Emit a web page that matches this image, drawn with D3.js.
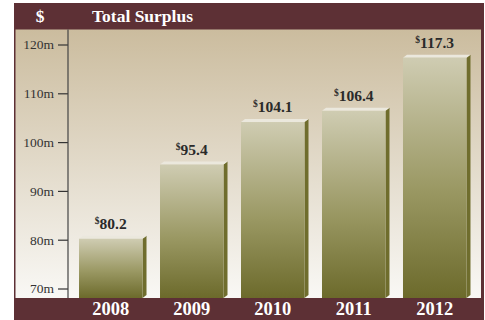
<!DOCTYPE html>
<html><head><meta charset="utf-8">
<script src="https://cdn.jsdelivr.net/npm/d3@7/dist/d3.min.js"></script>
<style>body{margin:0;background:#fff}svg{display:block}</style>
</head><body>
<script>
const years = ["2008","2009","2010","2011","2012"];
const surplus = [80.2, 95.4, 104.1, 106.4, 117.3];
const yTicks = [70, 80, 90, 100, 110, 120];
const title = "Total Surplus";

const W = 485, H = 320;
const svg = d3.select("body").append("svg").attr("width", W).attr("height", H);
const defs = svg.append("defs");
const bg = defs.append("linearGradient").attr("id","bg").attr("x1",0).attr("y1",0).attr("x2",0).attr("y2",1);
bg.append("stop").attr("offset","0%").attr("stop-color","#cbbc9e");
bg.append("stop").attr("offset","100%").attr("stop-color","#f9f8f5");
const bar = defs.append("linearGradient").attr("id","bar").attr("x1",0).attr("y1",0).attr("x2",0).attr("y2",1);
bar.append("stop").attr("offset","0%").attr("stop-color","#cfccb2");
bar.append("stop").attr("offset","55%").attr("stop-color","#9a9863");
bar.append("stop").attr("offset","100%").attr("stop-color","#6c6a2b");

const maroon = "#5d3035";
svg.append("rect").attr("x",14).attr("y",3).attr("width",470).attr("height",317).attr("fill",maroon);
svg.append("rect").attr("x",15.5).attr("y",29.5).attr("width",465.5).attr("height",268.5).attr("fill","url(#bg)");

const y = d3.scaleLinear().domain([70,120]).range([288.5,44.5]);
const x = d3.scaleBand().domain(years).range([68,477.5]).paddingInner(0.216).paddingOuter(0.136);
const base = 298;

const ax = svg.append("g").attr("transform","translate(68,0)")
  .call(d3.axisLeft(y).tickValues(yTicks).tickSize(10).tickPadding(4).tickFormat(d=>d+"m"));
ax.select(".domain").remove();
ax.selectAll(".tick line").attr("stroke","#333").attr("stroke-width",1.2);
ax.selectAll(".tick text").attr("fill","#333").style("font-family","'Liberation Serif',serif").style("font-size","13.5px");
svg.append("line").attr("x1",68).attr("x2",68).attr("y1",29.5).attr("y2",base).attr("stroke","#444").attr("stroke-width",1.2);

const d = 4, u = 3;
const g = svg.selectAll(".b").data(years).enter().append("g");
g.append("path").attr("fill","#6f6d2d").attr("d",(k,i)=>{
  const x1 = x(k)+x.bandwidth(), t = y(surplus[i]);
  return `M${x1},${t}L${x1+d},${t-u}L${x1+d},${base-u}L${x1},${base}Z`;
});
g.append("path").attr("fill","#ebe8dd").attr("d",(k,i)=>{
  const x0 = x(k), x1 = x0+x.bandwidth(), t = y(surplus[i]);
  return `M${x0},${t}L${x0+d},${t-u}L${x1+d},${t-u}L${x1},${t}Z`;
});
g.append("rect").attr("x",k=>x(k)).attr("y",(k,i)=>y(surplus[i])).attr("width",x.bandwidth())
  .attr("height",(k,i)=>base-y(surplus[i])).attr("fill","url(#bar)");
const lbl = g.append("text").attr("x",k=>x(k)+x.bandwidth()/2).attr("y",(k,i)=>y(surplus[i])-10)
  .attr("text-anchor","middle").attr("fill","#2a2a2a").style("font-family","'Liberation Serif',serif")
  .style("font-weight","bold").style("font-size","15.5px");
lbl.append("tspan").text("$").style("font-size","9.5px").attr("dy","-5");
lbl.append("tspan").text((k,i)=>surplus[i].toFixed(1)).attr("dy","5");

svg.selectAll(".yr").data(years).enter().append("text").attr("x",k=>x(k)+x.bandwidth()/2).attr("y",315)
  .attr("text-anchor","middle").attr("fill","#fff").style("font-family","'Liberation Serif',serif")
  .style("font-weight","bold").style("font-size","18.5px").text(k=>k);

svg.append("text").attr("x",40).attr("y",22).attr("text-anchor","middle").attr("fill","#fff")
  .style("font-family","'Liberation Serif',serif").style("font-weight","bold").style("font-size","17.5px").text("$");
svg.append("text").attr("x",92).attr("y",22).attr("fill","#fff")
  .style("font-family","'Liberation Serif',serif").style("font-weight","bold").style("font-size","17.5px").text(title);
</script>
</body></html>
